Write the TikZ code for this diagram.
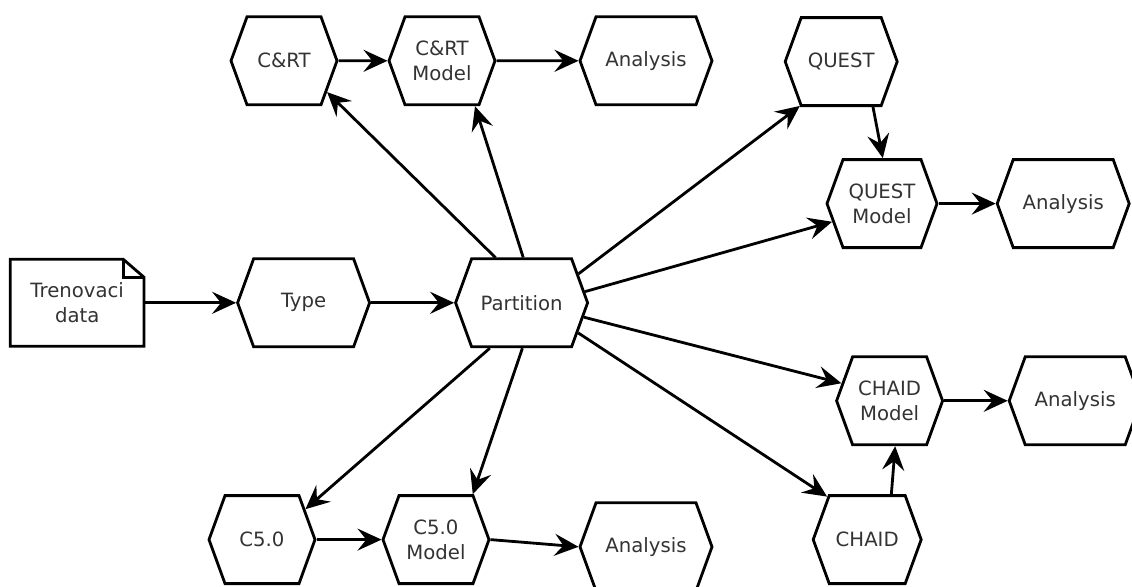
\documentclass[tikz,border=0pt]{standalone}
\usepackage{fontspec}
\setmainfont{DejaVu Sans}
\usepackage{tikz}
\usetikzlibrary{arrows.meta,shapes.symbols,calc}
\definecolor{txt}{HTML}{333333}
\tikzset{stick/.style={line width=2pt,line join=miter},
  hex/.style={signal,signal to=east and west,signal pointer angle=140,draw,stick,
    minimum width=2.65cm,minimum height=2.2cm,align=center,text=txt,
    font=\fontsize{14}{18}\selectfont},
  wide/.style={minimum width=3.3cm},
  doc/.style={minimum width=3.33cm,minimum height=2.16cm,align=center,text=txt,
    font=\fontsize{14}{18}\selectfont},
  arr/.style={stick,-{Stealth[length=0.6cm,width=0.55cm,inset=0.22cm]}}}

\begin{document}
\begin{tikzpicture}
  \useasboundingbox (0,0) rectangle (28.3,14.65);
  % input data
  \node[doc] (data) at (1.93,7.08) {Trenovaci\\data};
  \draw[stick] (data.south west) |- ($(data.north east)+(-0.52,0)$) -- ($(data.north east)+(0,-0.45)$) |- cycle;
  \draw[stick] ($(data.north east)+(-0.52,0)$) |- ($(data.north east)+(0,-0.45)$);
  \node[hex,wide] (type) at (7.59,7.08) {Type};
  \node[hex,wide] (part) at (13.04,7.08) {Partition};
  % C&RT
  \node[hex] (crt) at (7.1,13.13) {C\&RT};
  \node[hex] (crtm) at (11.05,13.13) {C\&RT\\Model};
  \node[hex,wide] (crta) at (16.15,13.13) {Analysis};
  % QUEST
  \node[hex,minimum width=2.8cm] (qst) at (21.03,13.11) {QUEST};
  \node[hex,minimum width=2.75cm] (qstm) at (22.05,9.56) {QUEST\\Model};
  \node[hex,wide] (qsta) at (26.58,9.56) {Analysis};
  % CHAID
  \node[hex,minimum width=2.7cm] (chd) at (21.68,1.16) {CHAID};
  \node[hex] (chdm) at (22.24,4.63) {CHAID\\Model};
  \node[hex,wide] (chda) at (26.88,4.63) {Analysis};
  % C5.0
  \node[hex] (cfv) at (6.55,1.16) {C5.0};
  \node[hex] (cfvm) at (10.9,1.16) {C5.0\\Model};
  \node[hex,wide] (cfva) at (16.15,0.98) {Analysis};
  % main line
  \draw[arr] (data.east) -- (type.west);
  \draw[arr] (type.east) -- (part.west);
  % partition out
  \draw[arr] (part.120) -- (crt.-36);
  \draw[arr] (part.88) -- (crtm.-54);
  \draw[arr] (part.27) -- (qst.-133);
  \draw[arr] (part.10) -- (qstm.-160);
  \draw[arr] (part.-13) -- (chdm.160);
  \draw[arr] (part.-28) -- (chd.133);
  \draw[arr] (part.-125) -- (cfv.35);
  \draw[arr] (part.-89) -- (cfvm.51);
  % models
  \draw[arr] (crt) -- (crtm);
  \draw[arr] (crtm) -- (crta);
  \draw[arr] (qst.-55) -- (qstm.89);
  \draw[arr] (qstm.east) -- (qsta.west);
  \draw[arr] (chd.62) -- (chdm.-83);
  \draw[arr] (chdm.east) -- (chda.west);
  \draw[arr] (cfv.east) -- (cfvm.west);
  \draw[arr] (cfvm.east) -- (cfva.west);
\end{tikzpicture}
\end{document}
